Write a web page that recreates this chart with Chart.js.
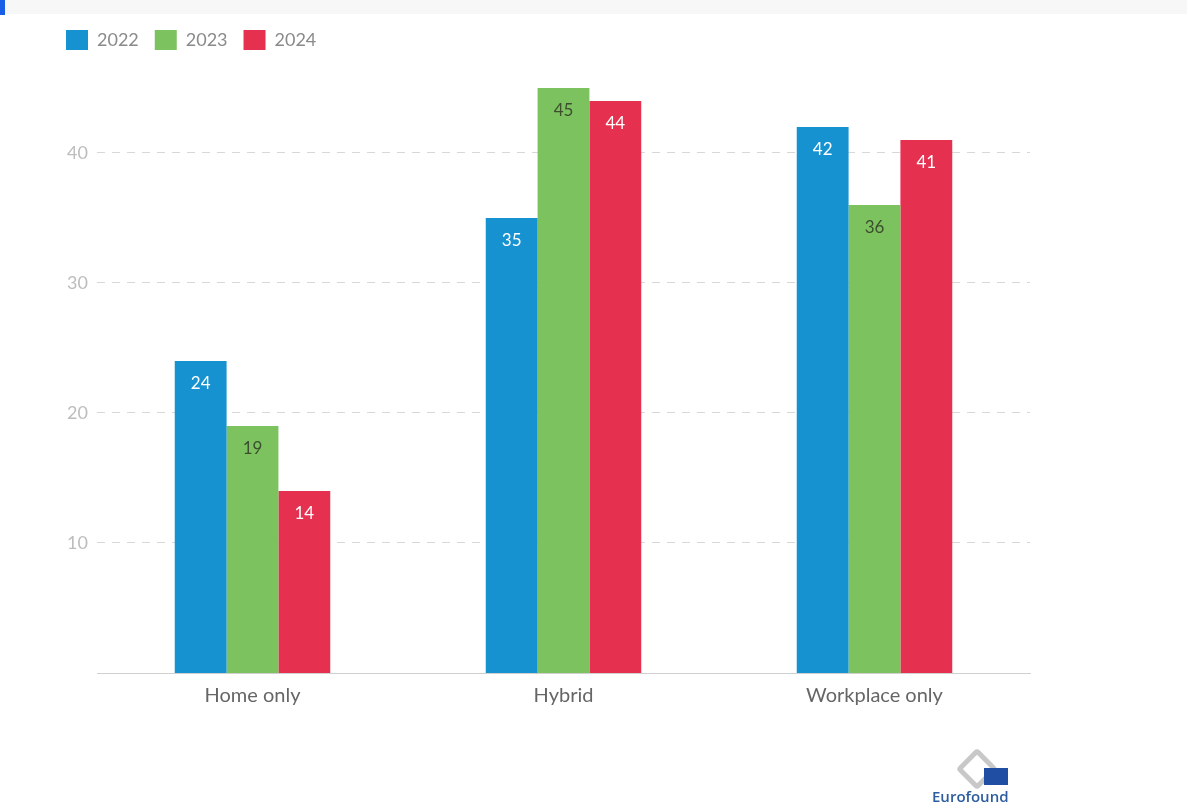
<!DOCTYPE html>
<html>
<head>
<meta charset="utf-8">
<script src="https://cdn.jsdelivr.net/npm/chart.js@4"></script>
<style>
  body { margin: 0; background: #fff; font-family: Lato, sans-serif; }
  #wrap { position: relative; width: 1187px; height: 808px; }
  #topbar { position: absolute; left: 0; top: 0; width: 1187px; height: 14px; background: #f7f7f7; }
  #topmark { position: absolute; left: 0; top: 0; width: 5px; height: 15px; background: #1a5ee8; }
  #logo { position: absolute; left: 932px; top: 750px; width: 80px; text-align: center; }
  #logo .flag { position: absolute; left: 52px; top: 18px; width: 24px; height: 17px; background: #1f4ea3; }
  #logo .txt { position: absolute; left: 0; top: 36px; font: 600 15px "Open Sans", sans-serif; color: #2d5d9f; }
  #logo .mark { position: absolute; left: 30px; top: 4px; width: 20px; height: 20px; border: 5px solid #c8c8c8; transform: rotate(45deg); border-radius: 4px; }
</style>
</head>
<body>
<div id="wrap">
  <canvas id="barChart" width="1187" height="808"></canvas>
  <div id="topbar"></div>
  <div id="topmark"></div>
  <div id="logo"><div class="mark"></div><div class="flag"></div><div class="txt">Eurofound</div></div>
</div>
<script>
var categories = ["Home only", "Hybrid", "Workplace only"];
var years = ["2022", "2023", "2024"];
var values2022 = [24, 35, 42];
var values2023 = [19, 45, 36];
var values2024 = [14, 44, 41];
var yTicks = [10, 20, 30, 40];

var colors = ['#1592cf', '#7cc35f', '#e5304f'];
var labelColors = ['#ffffff', '#3b4e2e', '#ffffff'];

// draws the value inside the top of each bar
var barLabels = {
    id: 'barLabels',
    afterDatasetsDraw: function (chart) {
        var ctx = chart.ctx;
        ctx.save();
        ctx.font = '17px Lato';
        ctx.textAlign = 'center';
        ctx.textBaseline = 'middle';
        chart.data.datasets.forEach(function (ds, i) {
            chart.getDatasetMeta(i).data.forEach(function (bar, j) {
                ctx.fillStyle = labelColors[i];
                ctx.fillText(ds.data[j], bar.x, bar.y + 23);
            });
        });
        ctx.restore();
    }
};

document.addEventListener('DOMContentLoaded', function () {
    var ctx = document.getElementById("barChart").getContext('2d');
    var allValues = [values2022, values2023, values2024];
    new Chart(ctx, {
        type: 'bar',
        data: {
            labels: categories,
            datasets: years.map(function (y, i) {
                return {
                    label: y,
                    data: allValues[i],
                    backgroundColor: colors[i],
                    borderWidth: 0,
                    categoryPercentage: 0.5,
                    barPercentage: 1.0
                };
            })
        },
        options: {
            responsive: false,
            animation: false,
            layout: { padding: { left: 50, right: 157, top: 14, bottom: 0 } },
            plugins: {
                legend: {
                    align: 'start',
                    labels: {
                        boxWidth: 22,
                        boxHeight: 20,
                        padding: 16,
                        color: '#8a8a8a',
                        font: { family: 'Lato', size: 18 }
                    }
                },
                tooltip: { enabled: false }
            },
            scales: {
                x: {
                    grid: { display: false, drawTicks: false },
                    border: { color: '#d0d0d0' },
                    ticks: { color: '#666', padding: 11, font: { family: 'Lato', size: 20 } },
                    afterFit: function (scale) { scale.height = 135; }
                },
                y: {
                    min: 0,
                    max: 47.15,
                    afterBuildTicks: function (scale) {
                        scale.ticks = yTicks.map(function (v) { return { value: v }; });
                    },
                    afterFit: function (scale) { scale.width = 47; },
                    border: { display: false, dash: [8, 7] },
                    grid: { color: '#d8d8d8', drawTicks: false },
                    ticks: { color: '#bdbdbd', padding: 9, font: { family: 'Lato', size: 18 } }
                }
            }
        },
        plugins: [barLabels]
    });
});
</script>
</body>
</html>
